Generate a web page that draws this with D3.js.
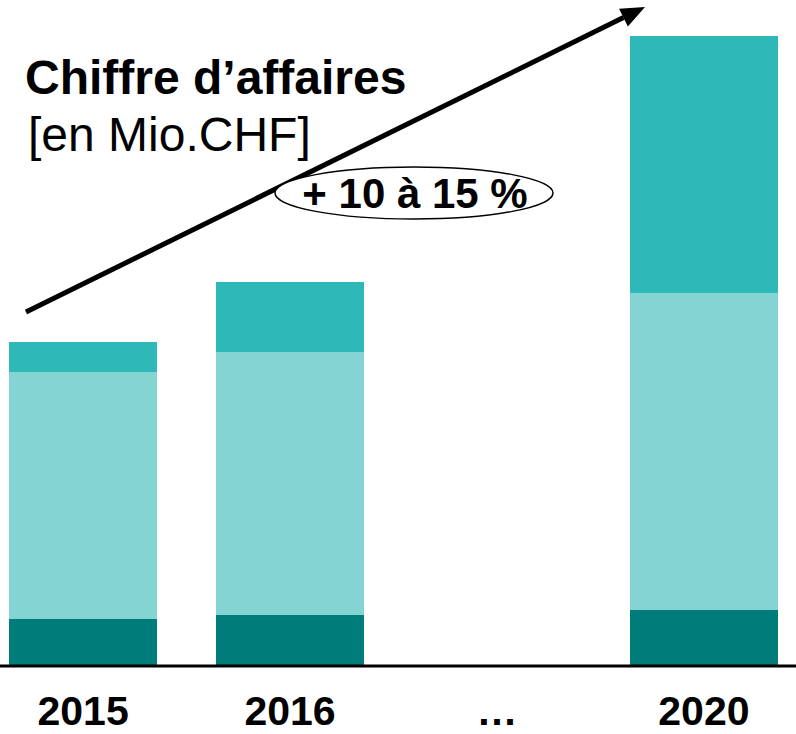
<!DOCTYPE html>
<html>
<head>
<meta charset="utf-8">
<script src="https://cdn.jsdelivr.net/npm/d3@7"></script>
<style>
  html, body { margin: 0; padding: 0; background: #ffffff; }
  svg { display: block; font-family: "Liberation Sans", Arial, sans-serif; }
</style>
</head>
<body>
<svg id="chart" width="796" height="734"></svg>
<script>
// ---- data ----
const categories = ["2015", "2016", "…", "2020"];
const barYears = ["2015", "2016", "2020"];
const seriesNames = ["base", "middle", "top"];
const baseValues   = [5.2, 5.7, 6.2];
const middleValues = [27.5, 29.2, 35.2];
const topValues    = [3.3, 7.8, 28.6];
const yMax = 70;
const titleText = "Chiffre d’affaires";
const unitText = "[en Mio.CHF]";
const growthLabel = "+ 10 à 15 %";

// ---- layout ----
const W = 796, H = 734;
const baselineY = 666, topY = 36;
const colors = { base: "#007d7a", middle: "#85d4d4", top: "#2eb8b8" };

const svg = d3.select("#chart");

const x = d3.scaleBand().domain(categories).range([9, 778]).paddingInner(0.284).paddingOuter(0);
const y = d3.scaleLinear().domain([0, yMax]).range([baselineY, topY]);

const rows = barYears.map((yr, i) => ({ year: yr, base: baseValues[i], middle: middleValues[i], top: topValues[i] }));
const stack = d3.stack().keys(seriesNames)(rows);

svg.append("g").selectAll("g")
  .data(stack).join("g")
  .attr("fill", d => colors[d.key])
  .selectAll("rect")
  .data(d => d).join("rect")
  .attr("x", d => x(d.data.year))
  .attr("width", x.bandwidth())
  .attr("y", d => y(d[1]))
  .attr("height", d => y(d[0]) - y(d[1]))
  .attr("shape-rendering", "crispEdges");

// baseline
svg.append("line")
  .attr("x1", 0).attr("x2", W)
  .attr("y1", baselineY).attr("y2", baselineY)
  .attr("stroke", "#000").attr("stroke-width", 3);

// category labels
const xAxis = d3.axisBottom(x).tickSize(0).tickPadding(0);
const gx = svg.append("g").attr("transform", `translate(0,${baselineY})`).call(xAxis);
gx.select(".domain").remove();
gx.selectAll("text")
  .attr("y", 59).attr("dy", null)
  .attr("font-size", 41).attr("font-weight", "bold")
  .attr("font-family", "Liberation Sans, Arial, sans-serif")
  .attr("fill", "#000");

// growth arrow
const ax1 = 26, ay1 = 312, ax2 = 645, ay2 = 7;
const ang = Math.atan2(ay2 - ay1, ax2 - ax1);
const headLen = 24, headW = 10;
const bx = ax2 - headLen * Math.cos(ang), by = ay2 - headLen * Math.sin(ang);
svg.append("line")
  .attr("x1", ax1).attr("y1", ay1).attr("x2", bx).attr("y2", by)
  .attr("stroke", "#000").attr("stroke-width", 5);
svg.append("path")
  .attr("d", d3.line()([
    [ax2, ay2],
    [bx + headW * Math.sin(ang), by - headW * Math.cos(ang)],
    [bx - headW * Math.sin(ang), by + headW * Math.cos(ang)]
  ]) + "Z")
  .attr("fill", "#000");

// ellipse label
svg.append("ellipse")
  .attr("cx", 414).attr("cy", 193).attr("rx", 139).attr("ry", 26)
  .attr("fill", "#fff").attr("stroke", "#000").attr("stroke-width", 1.5);
svg.append("text")
  .attr("x", 415).attr("y", 208)
  .attr("text-anchor", "middle")
  .attr("font-size", 42).attr("font-weight", "bold")
  .text(growthLabel);

// title
svg.append("text")
  .attr("x", 25).attr("y", 94)
  .attr("font-size", 48).attr("font-weight", "bold")
  .text(titleText);
svg.append("text")
  .attr("x", 28).attr("y", 151)
  .attr("font-size", 48)
  .text(unitText);
</script>
</body>
</html>
